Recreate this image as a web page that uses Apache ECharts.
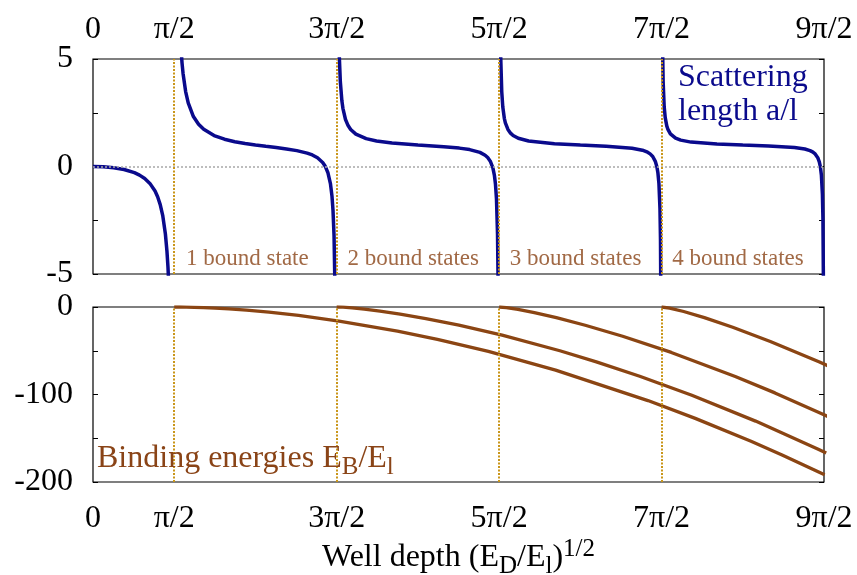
<!DOCTYPE html>
<html>
<head>
<meta charset="utf-8">
<script src="https://cdn.jsdelivr.net/npm/echarts@6/dist/echarts.min.js"></script>
<style>html,body{margin:0;padding:0;background:#fff}#chart{width:857px;height:575px}</style>
</head>
<body>
<div id="chart"></div>
<script>
// ---- Data ----
// x tick labels (multiples of pi/2)
const tickLabels = ['0', 'π/2', '3π/2', '5π/2', '7π/2', '9π/2'];
// thresholds where a new bound state appears (well depth)
const thresholds = [1.5708, 4.7124, 7.8540, 10.9956];
// scattering length a/l vs well depth; null separates branches between poles
const scatDepth = [
  0, 0.2, 0.4, 0.6, 0.8, 0.9, 1.0, 1.1, 1.2, 1.25, 1.3, 1.35, 1.4, 1.43, 1.45, 1.47, 1.5, 1.53, null,
  1.5916, 1.6116, 1.6416, 1.6716, 1.6916, 1.7216, 1.7416, 1.7916, 1.8416, 1.9416, 2.0416, 2.1416, 2.3416, 2.5416, 2.7416, 2.9416, 3.1416, 3.3416, 3.5416, 3.7416, 3.9416, 4.1416, 4.2416, 4.3416, 4.4416, 4.4916, 4.5416, 4.5916, 4.6216, 4.6416, 4.6616, 4.6816, 4.6916, 4.7016, null,
  4.7232, 4.7332, 4.7432, 4.7632, 4.7832, 4.8132, 4.8332, 4.8832, 4.9332, 4.9832, 5.0832, 5.2832, 5.4832, 5.7832, 6.2832, 6.7832, 7.0832, 7.2832, 7.4832, 7.5832, 7.6332, 7.6832, 7.7332, 7.7632, 7.7832, 7.8032, 7.8232, 7.8332, 7.8432, null,
  7.8648, 7.8748, 7.8848, 7.9048, 7.9248, 7.9548, 7.9748, 8.0248, 8.0748, 8.1248, 8.2248, 8.4248, 8.9248, 9.4248, 9.9248, 10.4248, 10.6248, 10.7248, 10.7748, 10.8248, 10.8748, 10.9048, 10.9248, 10.9448, 10.9648, 10.9748, 10.9848, 10.9898, null,
  11.0014, 11.0064, 11.0164, 11.0264, 11.0464, 11.0664, 11.0964, 11.1164, 11.1664, 11.2664, 11.3664, 11.5664, 12.0664, 12.5664, 13.0664, 13.5664, 13.7664, 13.8664, 13.9164, 13.9664, 14.0164, 14.0464, 14.0664, 14.0864, 14.1064, 14.1164, 14.1264, 14.1314
];
const scatLength = [
  0, -0.014, -0.057, -0.140, -0.287, -0.400, -0.557, -0.786, -1.144, -1.408, -1.771, -2.300, -3.141, -3.934, -4.681, -5.726, -8.40, -15.0, null,
  31.2, 16.2, 9.59, 6.915, 5.870, 4.823, 4.329, 3.487, 2.956, 2.325, 1.962, 1.727, 1.440, 1.269, 1.154, 1.069, 1.0, 0.939, 0.881, 0.817, 0.739, 0.624, 0.537, 0.408, 0.189, 0.008, -0.277, -0.794, -1.377, -2.038, -3.220, -5.934, -9.25, -18.7, null,
  20.6, 11.16, 7.844, 5.130, 3.948, 3.054, 2.705, 2.187, 1.903, 1.723, 1.506, 1.295, 1.188, 1.094, 1.0, 0.919, 0.855, 0.786, 0.656, 0.525, 0.416, 0.245, -0.065, -0.415, -0.812, -1.521, -3.149, -5.138, -10.81, null,
  12.77, 7.106, 5.117, 3.488, 2.779, 2.243, 2.033, 1.723, 1.552, 1.443, 1.313, 1.185, 1.061, 1.0, 0.945, 0.851, 0.758, 0.664, 0.587, 0.464, 0.242, -0.007, -0.291, -0.797, -1.960, -3.381, -7.43, -14.69, null,
  16.67, 9.413, 5.364, 3.944, 2.781, 2.274, 1.891, 1.741, 1.519, 1.320, 1.226, 1.135, 1.045, 1.0, 0.958, 0.885, 0.813, 0.740, 0.680, 0.585, 0.412, 0.218, -0.002, -0.396, -1.301, -2.406, -5.555, -11.2
];
// binding energies E_B/E_l of the bound states vs well depth
const state1Depth = [1.5708, 1.6792, 1.8068, 1.9582, 2.1397, 2.3597, 2.6302, 2.9690, 3.4028, 3.9749, 4.7581, 5.8882, 6.6607, 7.6468, 8.946, 10.732, 11.647, 12.726, 13.337, 14.149];
const state1Energy = [0, -0.028, -0.129, -0.335, -0.694, -1.280, -2.206, -3.658, -5.959, -9.695, -16.03, -27.54, -36.96, -50.80, -72.07, -106.94, -127.30, -153.47, -169.34, -191.6];
const state2Depth = [4.7124, 4.8366, 5.0123, 5.2467, 5.5506, 5.9395, 6.4366, 7.0766, 7.9120, 9.0290, 9.7346, 10.573, 11.581, 12.814, 14.015, 14.180];
const state2Energy = [0, -0.233, -0.991, -2.404, -4.672, -8.108, -13.21, -20.78, -32.21, -50.02, -62.70, -79.15, -100.92, -130.42, -162.16, -166.8];
const state3Depth = [7.854, 7.9939, 8.2178, 8.5352, 8.9615, 9.5193, 10.243, 11.184, 12.421, 13.188, 14.083, 14.280];
const state3Energy = [0, -0.637, -2.665, -6.361, -12.18, -20.83, -33.45, -51.91, -79.39, -98.16, -121.70, -127.10];
const state4Depth = [10.9956, 11.151, 11.423, 11.824, 12.372, 13.099, 14.050, 14.271];
const state4Energy = [0, -1.239, -5.150, -12.21, -23.21, -39.44, -62.93, -68.73];
// region labels
const regionLabels = ['1 bound state', '2 bound states', '3 bound states', '4 bound states'];
const regionLabelDepth = [1.80, 4.92, 8.06, 11.20];
const regionLabelValue = -4.3;

// ---- Build ----
const FONT = "'Liberation Serif','Times New Roman',serif";
const HALF_PI = Math.PI / 2;
const BLUE = '#0a0a8c';
const BROWN = '#8b4513';
const BROWN_TEXT = '#8a4417';
const GOLD = '#c9961a';

function zip(xs, ys) { return xs.map((x, i) => [x, ys[i]]); }
function branches(xs, ys) {
  const out = []; let cur = [];
  xs.forEach((x, i) => {
    if (x === null) { out.push(cur); cur = []; } else cur.push([x, ys[i]]);
  });
  out.push(cur);
  return out;
}
function xFmt(v) {
  const k = Math.round(v / HALF_PI);
  if (k === 0) return tickLabels[0];
  return k % 2 === 1 ? tickLabels[(k + 1) / 2] : '';
}
const labelStyle = { fontFamily: FONT, fontSize: 32, color: '#000' };
const vLines = thresholds.map(t => ({ xAxis: t }));
const goldStyle = { color: GOLD, type: [2, 1.5], width: 2 };

const series = [];
series.push({
  type: 'line', xAxisIndex: 0, yAxisIndex: 0, data: [], z: 1, silent: true,
  markLine: {
    symbol: 'none', silent: true, label: { show: false }, animation: false,
    data: [{ yAxis: 0, lineStyle: { color: '#a8a8a8', type: [2, 2], width: 1.5 } }]
      .concat(vLines.map(v => Object.assign({}, v, { lineStyle: goldStyle })))
  }
});
series.push({
  type: 'line', xAxisIndex: 1, yAxisIndex: 2, data: [], z: 1, silent: true,
  markLine: {
    symbol: 'none', silent: true, label: { show: false }, animation: false,
    data: vLines.map(v => Object.assign({}, v, { lineStyle: goldStyle }))
  }
});
branches(scatDepth, scatLength).forEach(b => series.push({
  type: 'line', xAxisIndex: 0, yAxisIndex: 0, data: b, showSymbol: false, z: 3,
  lineStyle: { color: BLUE, width: 3.5 }, clip: true, animation: false
}));
[[state1Depth, state1Energy], [state2Depth, state2Energy], [state3Depth, state3Energy], [state4Depth, state4Energy]]
  .forEach(([d, e]) => series.push({
    type: 'line', xAxisIndex: 1, yAxisIndex: 2, data: zip(d, e), showSymbol: false, z: 3,
    smooth: false,
    lineStyle: { color: BROWN, width: 3.3 }, clip: true, animation: false
  }));
series.push({
  type: 'scatter', xAxisIndex: 0, yAxisIndex: 0, symbolSize: 0, z: 4, animation: false,
  data: regionLabelDepth.map((d, i) => [d, regionLabelValue]),
  label: {
    show: true, position: 'inside', align: 'left', verticalAlign: 'middle',
    formatter: p => regionLabels[p.dataIndex],
    fontFamily: FONT, fontSize: 23, color: BROWN_TEXT
  }
});

const option = {
  backgroundColor: '#fff',
  animation: false,
  grid: [
    { left: 93, right: 33, top: 59, height: 215, show: true, borderColor: '#000', borderWidth: 1.2, backgroundColor: 'transparent', outerBoundsMode: 'none', containLabel: false },
    { left: 93, right: 33, top: 307, height: 175, show: true, borderColor: '#000', borderWidth: 1.2, backgroundColor: 'transparent', outerBoundsMode: 'none', containLabel: false }
  ],
  xAxis: [
    { gridIndex: 0, type: 'value', position: 'top', min: 0, max: 9 * HALF_PI, interval: HALF_PI,
      axisLine: { show: false }, axisTick: { show: false }, splitLine: { show: false },
      axisLabel: Object.assign({ formatter: xFmt, margin: 13, showMinLabel: true, showMaxLabel: true }, labelStyle) },
    { gridIndex: 1, type: 'value', position: 'bottom', min: 0, max: 9 * HALF_PI, interval: HALF_PI,
      axisLine: { show: false }, axisTick: { show: false }, splitLine: { show: false },
      axisLabel: Object.assign({ formatter: xFmt, margin: 21, showMinLabel: true, showMaxLabel: true }, labelStyle),
      name: '{a|Well depth (E}{s|D}{a|/E}{s|l}{a|)}{p|1/2}',
      nameLocation: 'middle', nameGap: 55,
      nameTextStyle: {
        rich: {
          a: { fontFamily: FONT, fontSize: 32, color: '#000', lineHeight: 42, verticalAlign: 'middle' },
          s: { fontFamily: FONT, fontSize: 25, color: '#000', lineHeight: 25, verticalAlign: 'bottom' },
          p: { fontFamily: FONT, fontSize: 25, color: '#000', lineHeight: 25, verticalAlign: 'top' }
        }
      } }
  ],
  yAxis: [
    { gridIndex: 0, type: 'value', min: -5, max: 5, interval: 2.5,
      axisLine: { show: false }, splitLine: { show: false },
      axisTick: { show: true, inside: true, length: 5, lineStyle: { color: '#000', width: 1 } },
      axisLabel: Object.assign({ margin: 20, formatter: v => (v === 5 || v === 0 || v === -5) ? String(v) : '' }, labelStyle) },
    { gridIndex: 0, type: 'value', position: 'right', min: -5, max: 5, interval: 2.5,
      axisLine: { show: false }, splitLine: { show: false }, axisLabel: { show: false },
      axisTick: { show: true, inside: true, length: 5, lineStyle: { color: '#000', width: 1 } } },
    { gridIndex: 1, type: 'value', min: -200, max: 0, interval: 50,
      axisLine: { show: false }, splitLine: { show: false },
      axisTick: { show: true, inside: true, length: 5, lineStyle: { color: '#000', width: 1 } },
      axisLabel: Object.assign({ margin: 20, formatter: v => (v % 100 === 0) ? String(v) : '' }, labelStyle) },
    { gridIndex: 1, type: 'value', position: 'right', min: -200, max: 0, interval: 50,
      axisLine: { show: false }, splitLine: { show: false }, axisLabel: { show: false },
      axisTick: { show: true, inside: true, length: 5, lineStyle: { color: '#000', width: 1 } } }
  ],
  graphic: [
    { type: 'text', left: 678, top: 61, z: 10,
      style: { text: 'Scattering\nlength a/l', fill: BLUE, fontFamily: FONT, fontSize: 32, lineHeight: 34 } },
    { type: 'text', left: 97, top: 443, z: 10,
      style: {
        text: '{a|Binding energies E}{s|B}{a|/E}{s|l}',
        rich: {
          a: { fontFamily: FONT, fontSize: 32, fill: BROWN_TEXT, lineHeight: 42, verticalAlign: 'middle' },
          s: { fontFamily: FONT, fontSize: 25, fill: BROWN_TEXT, lineHeight: 25, verticalAlign: 'bottom' }
        }
      } }
  ],
  series: series
};
const chart = echarts.init(document.getElementById('chart'), null, { renderer: 'canvas' });
chart.setOption(option);
</script>
</body>
</html>
